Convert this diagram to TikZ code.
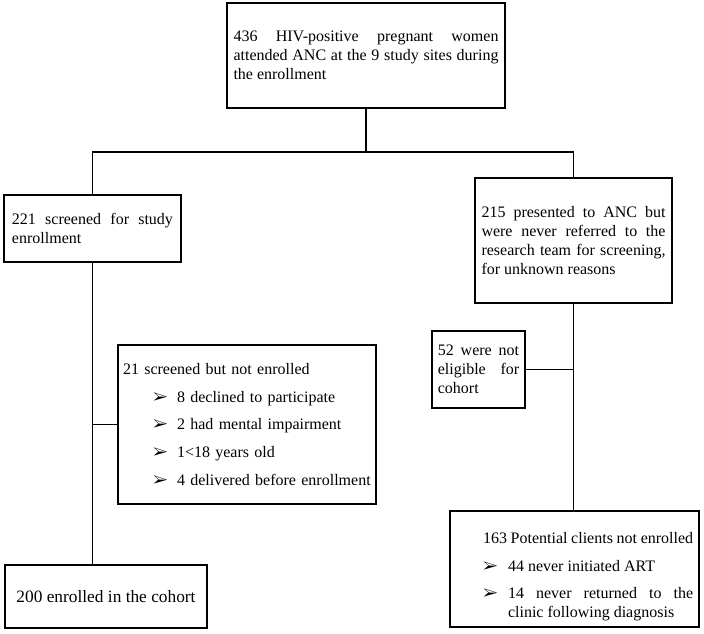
\documentclass[tikz,border=0pt]{standalone}
\usepackage{fontspec}
\setmainfont{Liberation Serif}
\usepackage{pifont}
\usetikzlibrary{positioning}

\hyphenpenalty=10000
\exhyphenpenalty=10000

% arrow bullet line: bullet offset, text offset, text
\newcommand{\flowitem}[3]{\par\vspace{6.5pt}\noindent\hangindent=#2\hangafter=1\hspace*{#1}\makebox[\dimexpr#2-#1\relax][l]{\ding{226}}#3\par}

\begin{document}
\begin{tikzpicture}[x=0.75pt, y=-0.75pt, line width=1.4pt,
  flowbox/.style={draw, line width=1.4pt, inner sep=0pt, align=justify,
    font=\fontsize{12}{14.2}\selectfont}]
  \useasboundingbox (0,0) rectangle (704,633);

  \node[flowbox, minimum width=208.5pt, minimum height=78.75pt, text width=198.75pt] (attended) at (366,55.5)
    {436 HIV-positive pregnant women attended ANC at the 9 study sites during the enrollment};
  \node[flowbox, minimum width=132.75pt, minimum height=50.25pt, text width=120.75pt] (screened) at (92.5,228.5)
    {221 screened for study enrollment};
  \node[flowbox, minimum width=147.75pt, minimum height=93.75pt, text width=138pt] (notref) at (573.5,240.5)
    {215 presented to ANC but were never referred to the research team for screening, for unknown reasons};
  \node[flowbox, align=left, minimum width=193.5pt, minimum height=119.25pt, text width=186pt] (notenrolled) at (247,424.5)
    {21 screened but not enrolled
     \flowitem{22.5pt}{40.5pt}{8 declined to participate}
     \flowitem{22.5pt}{40.5pt}{2 had mental impairment}
     \flowitem{22.5pt}{40.5pt}{1<18 years old}
     \flowitem{22.5pt}{40.5pt}{4 delivered before enrollment}};
  \node[flowbox, minimum width=69.75pt, minimum height=57.75pt, text width=61pt] (noteligible) at (478.5,369.5)
    {52 were not eligible for cohort};
  \node[flowbox, minimum width=186.75pt, minimum height=87pt, text width=178pt] (potential) at (574.5,569)
    {\leftskip=20.4pt\rule{0pt}{20pt}163 Potential clients not enrolled
     \flowitem{0pt}{18.75pt}{44 never initiated ART}
     \flowitem{0pt}{18.75pt}{14 never returned to the clinic following diagnosis}};
  \node[flowbox, align=center, font=\fontsize{13}{15}\selectfont, minimum width=151.5pt, minimum height=47.25pt] (enrolled) at (106,596.5)
    {200 enrolled in the cohort};

  \coordinate[below=32.25pt of attended.south] (split);

  % top split
  \draw (attended.south) -- (split);
  \draw (screened.north) |- (split) -| (notref.north);
  % left branch
  \draw (screened.south) -- (screened.south |- enrolled.north);
  \draw (notenrolled.west) -- (notenrolled.west -| screened.south);
  % right branch
  \draw (notref.south) -- (notref.south |- potential.north);
  \draw (noteligible.east) -- (noteligible.east -| notref.south);
\end{tikzpicture}
\end{document}
